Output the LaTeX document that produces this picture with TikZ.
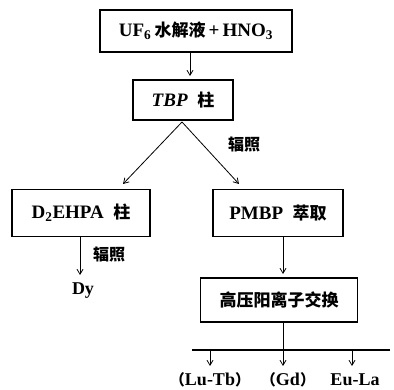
\documentclass[tikz,border=0pt]{standalone}
\usepackage{fontspec}
\setmainfont{Liberation Serif}
\newfontfamily\cjk{Noto Sans CJK SC}
\usetikzlibrary{arrows.meta}
\begin{document}
\begin{tikzpicture}[x=1pt,y=-1pt,
  box/.style={draw,line width=1.1pt,inner sep=0pt,font=\bfseries\fontsize{19}{19}\selectfont},
  arr/.style={line width=0.8pt,-{Straight Barb[length=5pt,width=6pt]}},
  lab/.style={font=\bfseries\fontsize{18}{18}\selectfont,inner sep=0pt},
  clab/.style={font=\bfseries\fontsize{16}{16}\selectfont,inner sep=0pt},
  every node/.style={anchor=center}]
\useasboundingbox (0,0) rectangle (394,390);
\node[box,minimum width=192pt,minimum height=42pt] (uf) at (196,31) {UF$_{\mathbf 6}$\,{\cjk\fontsize{17}{17}\selectfont 水解液}\,+\,HNO$_{\mathbf 3}$};
\node[box,minimum width=100pt,minimum height=40pt] (tbp) at (183,100) {\textit{TBP}\enspace{\cjk\fontsize{17}{17}\selectfont 柱}};
\node[box,minimum width=138pt,minimum height=47pt] (d2) at (81,213) {D$_{\mathbf 2}$EHPA\enspace{\cjk\fontsize{17}{17}\selectfont 柱}};
\node[box,minimum width=130pt,minimum height=47pt] (pm) at (278,213) {PMBP\enspace{\cjk\fontsize{17}{17}\selectfont 萃取}};
\node[box,minimum width=157pt,minimum height=44pt] (hp) at (279,300) {\cjk\fontsize{17}{17}\selectfont 高压阳离子交换};
\node[lab] (dy) at (83,291) {Dy};
\node[clab] (l1) at (244,144) {\cjk 辐照};
\node[clab] (l2) at (109,254) {\cjk 辐照};
\coordinate (apex) at (182,122);
\coordinate (tl) at (123,184);
\coordinate (tr) at (239,184);
\coordinate (bar) at (283,350);
\coordinate (bl) at (192,350);
\coordinate (br) at (390,350);
\node[lab] (o1) at (210,380) {{\cjk\fontsize{15}{15}\selectfont （}Lu-Tb{\cjk\fontsize{15}{15}\selectfont ）}};
\node[lab] (o2) at (288,380) {{\cjk\fontsize{15}{15}\selectfont （}Gd{\cjk\fontsize{15}{15}\selectfont ）}};
\node[lab] (o3) at (355,380) {Eu-La};
\draw[arr] (uf.south -| 190,0) -- (190,76);
\draw[arr] (apex) -- (tl);
\draw[arr] (apex) -- (tr);
\draw[arr] (80,236.5) -- (80,275);
\draw[arr] (283,236.5) -- (283,274);
\draw[line width=0.8pt] (hp.south -| bar) -- (bar);
\draw[line width=1.1pt] (bl) -- (br);
\draw[arr] (210,350) -- (210,366);
\draw[arr] (283,350) -- (283,366);
\draw[arr] (352,350) -- (352,366);
\end{tikzpicture}
\end{document}
